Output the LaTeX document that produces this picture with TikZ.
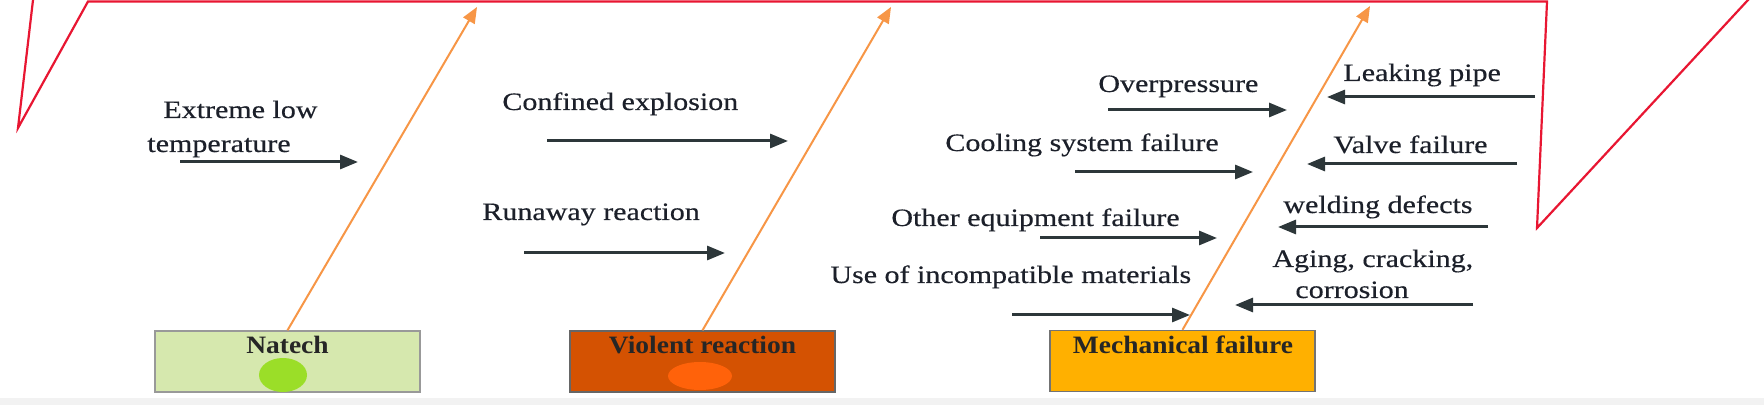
\documentclass[tikz,border=0pt]{standalone}
\usepackage{fontspec}
\setmainfont[FakeStretch=1.2,FakeBold=0.4]{Liberation Serif}
\newfontfamily\boxfont[FakeStretch=1.1]{Liberation Serif}
\usetikzlibrary{arrows.meta}
\definecolor{fishred}{RGB}{232,22,50}
\definecolor{bonecol}{RGB}{247,150,70}
\definecolor{causecol}{RGB}{45,55,58}
\definecolor{txtcol}{RGB}{28,32,42}
\definecolor{natfill}{RGB}{214,232,174}
\definecolor{viofill}{RGB}{212,82,2}
\definecolor{mecfill}{RGB}{255,176,0}
\definecolor{blobgreen}{RGB}{155,222,40}
\definecolor{blobor}{RGB}{255,98,10}
\tikzset{
 lbl/.style={font=\fontsize{12.5}{15}\selectfont, text=txtcol, inner sep=0pt, anchor=base west},
 cause/.style={draw=causecol, line width=1.5pt, -{Triangle[length=9pt,width=7pt]}},
 bone/.style={draw=bonecol, line width=1pt, -{Triangle[length=8pt,width=6.5pt]}},
 catbox/.style={rectangle, minimum width=132.5pt, minimum height=30.5pt, line width=0.7pt, inner sep=0pt},
 catlbl/.style={font=\boxfont\bfseries\fontsize{12.5}{15}\selectfont, text=black!85, inner sep=0pt, anchor=base},
}
\begin{document}
\begin{tikzpicture}[x=0.5pt,y=-0.5pt]
\useasboundingbox (0,0) rectangle (1764,405);
\fill[white] (0,0) rectangle (1764,405);
\fill[black!5] (0,398) rectangle (1764,405);
\begin{scope}
\clip (0,0) rectangle (1764,405);
\draw[fishred, line width=1.1pt, line join=miter] (33.6,-5) -- (18,128) -- (88,1.5) -- (1547,1.5) -- (1537,228) -- (1752.6,-5);
\end{scope}

% category boxes
\node[catbox, fill=natfill, draw=black!40] (natech) at (287.5,361.5) {};
\node[catbox, fill=viofill, draw=black!60] (violent) at (702.5,361.5) {};
\node[catbox, fill=mecfill, draw=black!55] (mech) at (1182.5,361) {};
\fill[blobgreen] (283,375) ellipse [x radius=12pt, y radius=8.5pt];
\fill[blobor] (700,376) ellipse [x radius=16pt, y radius=7pt];
\node[catlbl] (natechlbl) at (287.5,353) {Natech};
\node[catlbl] (violentlbl) at (702.5,353) {Violent reaction};
\node[catlbl] (mechlbl) at (1183,353) {Mechanical failure};

% bones
\coordinate (natechtip) at (477,7);
\coordinate (violenttip) at (891,7);
\coordinate (mechtip) at (1370,6);
\draw[bone] (natech.north) -- (natechtip);
\draw[bone] (violent.north) -- (violenttip);
\draw[bone] (mech.north) -- (mechtip);

% cause labels
\node[lbl] (elow1) at (163,118) {Extreme low};
\node[lbl] (elow2) at (147,152) {temperature};
\node[lbl] (conf) at (502,110) {Confined explosion};
\node[lbl] (runa) at (482,220) {Runaway reaction};
\node[lbl] (overp) at (1098,92) {Overpressure};
\node[lbl] (cool) at (945,151) {Cooling system failure};
\node[lbl] (other) at (891,226) {Other equipment failure};
\node[lbl] (incomp) at (830,283) {Use of incompatible materials};
\node[lbl] (leak) at (1343,81) {Leaking pipe};
\node[lbl] (valve) at (1333,153) {Valve failure};
\node[lbl] (weld) at (1283,213) {welding defects};
\node[lbl] (aging1) at (1272,267) {Aging, cracking,};
\node[lbl] (aging2) at (1295,298) {corrosion};

% cause arrows
\coordinate (a1s) at (180,162);  \coordinate (a1e) at (358,162);
\coordinate (a2s) at (547,141);  \coordinate (a2e) at (788,141);
\coordinate (a3s) at (524,253);  \coordinate (a3e) at (725,253);
\coordinate (a4s) at (1108,110); \coordinate (a4e) at (1287,110);
\coordinate (a5s) at (1075,172); \coordinate (a5e) at (1253,172);
\coordinate (a6s) at (1040,238); \coordinate (a6e) at (1217,238);
\coordinate (a7s) at (1012,315); \coordinate (a7e) at (1190,315);
\coordinate (b1s) at (1535,97);  \coordinate (b1e) at (1327,97);
\coordinate (b2s) at (1517,164); \coordinate (b2e) at (1307,164);
\coordinate (b3s) at (1488,227); \coordinate (b3e) at (1278,227);
\coordinate (b4s) at (1473,305); \coordinate (b4e) at (1235,305);
\foreach \p in {a1,a2,a3,a4,a5,a6,a7,b1,b2,b3,b4}{
  \draw[cause] (\p s) -- (\p e);
}
\end{tikzpicture}
\end{document}
